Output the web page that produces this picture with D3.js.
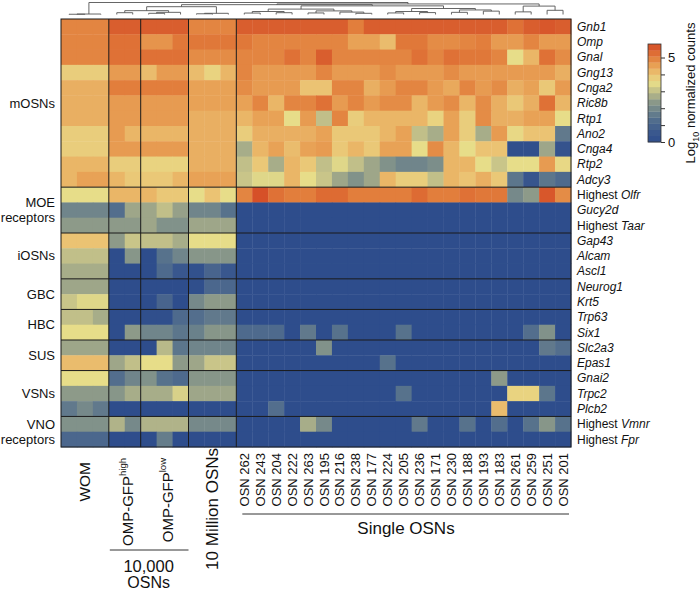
<!DOCTYPE html>
<html>
<head>
<meta charset="utf-8">
<script src="https://cdn.jsdelivr.net/npm/d3@7"></script>
<style>
  body { margin: 0; background: #fff; }
  text { font-family: "Liberation Sans", Arial, sans-serif; fill: #111; }
</style>
</head>
<body>
<svg id="chart" width="700" height="590"></svg>
<script>
// ---- data ----
const genes = ['Gnb1', 'Omp', 'Gnal', 'Gng13', 'Cnga2', 'Ric8b', 'Rtp1', 'Ano2', 'Cnga4', 'Rtp2', 'Adcy3',
    'Highest Olfr', 'Gucy2d', 'Highest Taar', 'Gap43', 'Alcam', 'Ascl1', 'Neurog1', 'Krt5', 'Trp63', 'Six1',
    'Slc2a3', 'Epas1', 'Gnai2', 'Trpc2', 'Plcb2', 'Highest Vmnr', 'Highest Fpr'];

const rowGroupLabels = [['mOSNs'], ['MOE', 'receptors'], ['iOSNs'], ['GBC'], ['HBC'], ['SUS'], ['VSNs'], ['VNO', 'receptors']];
const rowGroupSizes = [11, 3, 3, 2, 2, 2, 3, 2];

const colGroupSizes = [3, 2, 3, 3, 21];
const singleIds = ['262', '243', '204', '222', '263', '195', '216', '238', '177', '224', '205',
    '236', '171', '230', '188', '193', '183', '261', '259', '251', '201'];

// log10 normalized counts, bulk samples (WOM x3, OMP-GFP high x2, OMP-GFP low x3, 10 Million x3)
const bulkValues = [
    [4.9, 4.9, 4.9, 5.5, 5.5, 5.5, 5.5, 5.5, 4.9, 4.9, 4.9],
    [4.9, 4.9, 4.9, 5.2, 5.2, 4.7, 4.7, 5.1, 5.1, 5.1, 5.1],
    [4.9, 4.9, 4.9, 5.2, 5.2, 5.2, 5.2, 5.2, 4.8, 4.8, 4.8],
    [3.8, 3.8, 3.8, 4.6, 4.6, 4.1, 4.6, 4.6, 4.1, 3.7, 4.2],
    [4.3, 4.3, 4.3, 5.0, 5.0, 5.0, 5.0, 5.0, 4.5, 4.5, 4.5],
    [4.3, 4.3, 4.3, 4.6, 4.6, 4.6, 4.6, 4.6, 4.5, 4.5, 4.5],
    [4.3, 4.3, 4.3, 4.6, 4.6, 4.6, 4.6, 4.6, 4.3, 4.3, 4.3],
    [3.8, 3.8, 3.8, 4.6, 4.2, 4.2, 4.2, 4.2, 4.3, 4.3, 4.3],
    [3.8, 3.8, 3.8, 4.6, 4.6, 4.6, 4.6, 4.6, 4.3, 4.3, 4.3],
    [4.2, 4.2, 4.2, 3.8, 3.8, 3.7, 3.7, 3.7, 4.3, 4.3, 4.3],
    [4.2, 4.5, 4.5, 4.2, 3.9, 3.9, 3.9, 4.2, 4.5, 4.5, 4.5],
    [3.5, 3.5, 3.5, 4.2, 4.2, 4.2, 3.9, 3.9, 3.5, 4.0, 3.5],
    [1.9, 1.9, 1.9, 1.3, 2.6, 2.6, 3.0, 2.5, 1.9, 1.9, 1.4],
    [2.4, 2.4, 2.4, 2.4, 2.4, 2.6, 2.2, 2.2, 2.6, 2.6, 2.6],
    [4.0, 4.0, 4.0, 2.4, 3.1, 3.0, 3.0, 2.7, 3.5, 3.5, 3.5],
    [3.0, 3.0, 3.0, 0.0, 2.3, 0.0, 1.4, 1.9, 2.3, 2.3, 2.3],
    [2.7, 2.7, 2.7, 0.0, 0.0, 0.0, 1.2, 0.5, 0.2, 1.0, 0.5],
    [2.6, 2.6, 2.6, 0.0, 0.0, 0.0, 0.0, 0.0, 0.1, 1.1, 1.1],
    [3.1, 3.4, 3.4, 0.0, 0.0, 0.0, 1.0, 0.0, 2.0, 2.4, 2.4],
    [3.0, 3.0, 2.7, 0.0, 0.0, 0.1, 0.1, 1.2, 1.3, 1.6, 1.6],
    [3.5, 3.5, 3.5, 0.0, 2.4, 1.9, 1.9, 1.5, 1.8, 2.3, 2.3],
    [2.6, 2.6, 2.6, 0.0, 0.0, 0.0, 2.9, 1.5, 1.9, 1.9, 1.9],
    [4.1, 4.1, 4.1, 2.6, 3.0, 3.5, 3.5, 2.4, 2.6, 3.1, 3.1],
    [3.5, 3.5, 3.5, 1.3, 1.9, 2.2, 1.4, 1.2, 2.3, 2.3, 2.3],
    [2.4, 2.4, 2.4, 2.3, 2.7, 2.7, 2.7, 3.3, 2.6, 2.6, 2.6],
    [1.6, 2.0, 1.6, 0.0, 0.0, 0.0, 0.0, 0.0, 0.0, 0.0, 0.0],
    [2.2, 2.2, 2.2, 2.8, 2.0, 2.8, 2.8, 2.8, 2.0, 2.0, 2.0],
    [1.1, 1.1, 1.1, 0.0, 0.0, 0.0, 1.7, 0.0, 0.0, 0.0, 0.0]
];

// log10 normalized counts, single OSNs (same order as singleIds)
const singleValues = [
    [5.5, 5.5, 5.5, 5.5, 5.5, 5.5, 5.5, 5.0, 5.5, 5.5, 5.5, 5.5, 5.5, 5.5, 5.5, 5.5, 5.5, 5.2, 5.5, 5.6, 5.5],
    [5.1, 4.9, 4.9, 4.9, 4.9, 4.9, 4.9, 4.5, 4.5, 4.1, 5.1, 5.1, 4.8, 4.8, 4.9, 5.0, 4.6, 4.6, 4.9, 4.6, 4.6],
    [4.9, 4.9, 4.9, 5.2, 4.9, 5.5, 4.9, 4.9, 4.9, 4.9, 4.9, 5.2, 4.9, 5.2, 5.1, 5.1, 4.9, 3.5, 4.2, 5.2, 4.8],
    [4.9, 4.6, 4.6, 4.6, 4.6, 4.9, 4.6, 4.6, 4.6, 4.8, 4.6, 4.6, 4.6, 4.8, 4.6, 4.6, 4.6, 4.6, 4.6, 4.6, 4.3],
    [4.8, 4.6, 4.6, 4.6, 4.0, 4.0, 4.9, 4.9, 4.3, 4.6, 4.9, 4.9, 4.6, 4.4, 4.9, 4.6, 4.8, 4.3, 4.5, 3.9, 4.6],
    [4.5, 4.9, 4.2, 4.9, 4.9, 5.2, 4.6, 4.9, 4.6, 4.8, 4.8, 4.2, 4.6, 4.8, 4.2, 4.8, 4.3, 3.9, 4.3, 5.2, 4.2],
    [4.2, 4.5, 4.5, 3.5, 4.6, 3.0, 4.9, 3.8, 4.2, 4.2, 4.2, 4.2, 3.7, 4.5, 3.8, 4.8, 4.3, 4.3, 4.5, 4.5, 3.5],
    [3.8, 4.3, 4.3, 4.3, 4.3, 4.5, 3.9, 3.9, 3.9, 4.2, 4.5, 3.0, 2.7, 4.5, 3.8, 2.7, 4.6, 3.6, 4.0, 4.0, 1.6],
    [2.7, 4.2, 4.5, 4.1, 4.5, 4.6, 3.9, 4.2, 3.9, 4.5, 4.5, 3.5, 4.8, 4.2, 3.5, 4.0, 4.0, 0.1, 0.1, 2.6, 0.3],
    [3.0, 3.9, 2.7, 4.2, 3.9, 3.0, 3.4, 3.0, 2.6, 2.2, 1.9, 1.9, 2.1, 4.2, 4.2, 3.5, 3.1, 3.5, 3.5, 4.6, 3.6],
    [3.1, 3.4, 3.4, 4.2, 3.5, 3.1, 2.6, 2.2, 2.6, 4.2, 3.8, 3.8, 3.0, 4.2, 4.0, 4.3, 3.9, 1.5, 0.4, 1.5, 1.2],
    [4.9, 5.7, 5.2, 5.0, 5.0, 5.3, 5.3, 5.0, 5.0, 5.0, 5.0, 5.3, 5.0, 5.0, 5.2, 5.1, 5.1, 2.0, 2.4, 5.6, 4.8],
    [0, 0, 0, 0, 0, 0, 0, 0, 0, 0, 0, 0, 0, 0, 0, 0, 0, 0, 0, 0, 0],
    [0, 0, 0, 0, 0, 0, 0, 0, 0, 0, 0, 0, 0, 0, 0, 0, 0, 0, 0, 0, 0],
    [0, 0, 0, 0, 0, 0, 0, 0, 0, 0, 0, 0, 0, 0, 0, 0, 0, 0, 0, 0, 0],
    [0, 0, 0, 0, 0, 0, 0, 0, 0, 0, 0, 0, 0, 0, 0, 0, 0, 0, 0, 0, 0],
    [0, 0, 0, 0, 0, 0, 0, 0, 0, 0, 0, 0, 0, 0, 0, 0, 0, 0, 0, 0, 0],
    [0, 0, 0, 0, 0, 0, 0, 0, 0, 0, 0, 0, 0, 0, 0, 0, 0, 0, 0, 0, 0],
    [0, 0, 0, 0, 0, 0, 0, 0, 0, 0, 0, 0, 0, 0, 0, 0, 0, 0, 0, 0, 0],
    [0, 0, 0, 0, 0, 0, 0, 0, 0, 0, 0, 0, 0, 0, 0, 0, 0, 0, 0, 0, 0],
    [1.2, 1.2, 1.2, 0, 1.6, 0, 1.4, 0, 0, 0, 1.4, 0, 0, 0, 0, 0, 0, 0, 1.3, 2.2, 0],
    [0, 0, 0, 0, 0, 2.2, 0, 0, 0, 0, 0, 0, 0, 0, 0, 0, 0, 0, 0, 1.6, 1.3],
    [0, 0, 0, 0, 0, 0, 0, 0, 0, 1.4, 0, 0, 0, 0, 0, 0, 0, 0, 0, 0, 0],
    [0, 0, 0, 0, 0, 0, 0, 0, 0, 0, 0, 0, 0, 0, 0, 0, 2.4, 0, 0, 0, 0],
    [0, 0, 0, 0, 0, 0, 0, 0, 0, 0, 1.4, 0, 0, 0, 0, 0, 0, 3.7, 3.7, 1.5, 0],
    [0, 0, 1.3, 0, 0, 0, 0, 0, 0, 0, 0, 0, 0, 0, 0, 0, 4.1, 0, 0, 0, 0],
    [0, 0, 0, 0, 2.7, 2.0, 0, 0, 0, 0, 0, 1.6, 0, 0, 1.4, 0, 1.3, 0, 1.4, 2.3, 1.4],
    [0, 0, 0, 0, 0, 0, 0, 0, 0, 0, 0, 0, 0, 0, 0, 0, 0, 0, 0, 0, 0]
];

// column clustering: [height, left, right], leaves are column indices
const singleTree = [7.2,
    [4.5, [2.5, [1.2, 11, 12], [1.5, 13, 14]], [3.0, [1.3, 15, 16], [2.0, 17, [1.0, 18, 19]]]],
    [5.0, [2.5, [1.3, 20, 21], [1.6, 22, 23]], [3.8, [1.8, 24, 25], [2.8, 26, 27]]]];
const dendrogram = [10,
    [0.4, [0.2, 0, 1], 2],
    [8.8,
        [8.2,
            [6.5, [3.2, [1.5, 3, 4], [1.8, [1.0, 5, 6], 7]], [1.0, [0.6, 8, 9], 10]],
            singleTree],
        [7.0, [2.2, 28, 29], [3.5, 30, 31]]]];

// colour scale: blue (low) -> yellow -> red (high)
const colorStops = [0, 0.6, 1.2, 1.8, 2.4, 3.0, 3.5, 4.0, 4.5, 5.0, 5.8];
const colorRange = ['#2e4d8c', '#3b598e', '#4e6a8d', '#6a818b', '#8d9a89', '#c1bf89',
    '#e7dd89', '#ebc373', '#e8a256', '#e27e3c', '#d44a25'];

// ---- layout ----
const svg = d3.select('#chart');
const nCols = 32;
const matrix = genes.map((g, i) => bulkValues[i].concat(singleValues[i]));

const x = d3.scaleBand().domain(d3.range(nCols)).range([61, 571]);
const y = d3.scaleBand().domain(d3.range(genes.length)).range([19, 447]);
const color = d3.scaleLinear().domain(colorStops).range(colorRange).clamp(true);
const bw = x.bandwidth(), bh = y.bandwidth();

// cells
const cells = [];
matrix.forEach((row, r) => row.forEach((v, c) => cells.push({ r, c, v })));
svg.append('g')
    .selectAll('rect')
    .data(cells)
    .enter()
    .append('rect')
    .attr('x', d => x(d.c))
    .attr('y', d => y(d.r))
    .attr('width', bw + 0.4)
    .attr('height', bh + 0.4)
    .attr('fill', d => color(d.v));

// group separators
const colBreaks = Array.from(d3.cumsum(colGroupSizes)).slice(0, -1);
const rowBreaks = Array.from(d3.cumsum(rowGroupSizes)).slice(0, -1);
const sep = svg.append('g').attr('stroke', '#1a1a1a').attr('stroke-width', 1);
colBreaks.forEach(b => {
    sep.append('line').attr('x1', x(b)).attr('x2', x(b)).attr('y1', 19).attr('y2', 447);
});
rowBreaks.forEach(b => {
    sep.append('line').attr('x1', 61).attr('x2', 571).attr('y1', y(b)).attr('y2', y(b));
});
sep.append('rect').attr('x', 61).attr('y', 19).attr('width', 510).attr('height', 428).attr('fill', 'none');

// dendrogram
const yDen = d3.scaleLinear().domain([0, 10]).range([14.5, 2.5]);
const segs = [];
function layoutTree(node) {
    if (typeof node === 'number') return { x: x(node) + bw / 2, y: yDen(0) };
    const [h, a, b] = node;
    const l = layoutTree(a), r = layoutTree(b);
    const ny = yDen(h);
    segs.push([l.x, l.y, l.x, ny], [r.x, r.y, r.x, ny], [l.x, ny, r.x, ny]);
    return { x: (l.x + r.x) / 2, y: ny };
}
layoutTree(dendrogram);
svg.append('g')
    .selectAll('line')
    .data(segs)
    .enter()
    .append('line')
    .attr('x1', d => d[0]).attr('y1', d => d[1])
    .attr('x2', d => d[2]).attr('y2', d => d[3])
    .attr('stroke', '#555')
    .attr('stroke-width', 0.9);

// gene labels (right)
const geneLabels = svg.append('g').attr('font-size', '12px');
genes.forEach((g, i) => {
    const t = geneLabels.append('text')
        .attr('x', 577)
        .attr('y', y(i) + bh / 2)
        .attr('dy', '0.35em');
    if (g.startsWith('Highest ')) {
        t.append('tspan').text('Highest ');
        t.append('tspan').attr('font-style', 'italic').text(g.slice(8));
    } else {
        t.attr('font-style', 'italic').text(g);
    }
});

// row group labels (left)
let start = 0;
rowGroupSizes.forEach((n, gi) => {
    const cy = y(start) + n * bh / 2;
    const lines = rowGroupLabels[gi];
    lines.forEach((line, li) => {
        svg.append('text')
            .attr('x', 55)
            .attr('y', cy + (li - (lines.length - 1) / 2) * 15)
            .attr('dy', '0.35em')
            .attr('text-anchor', 'end')
            .attr('font-size', '13px')
            .text(line);
    });
    start += n;
});

// bulk sample labels (bottom, rotated)
const colStarts = [0].concat(colBreaks);
function groupCenter(g) {
    return (x(colStarts[g]) + x(colStarts[g] + colGroupSizes[g] - 1) + bw) / 2;
}
function rotLabel(cx, top, size) {
    return svg.append('text')
        .attr('transform', `translate(${cx},${top}) rotate(-90)`)
        .attr('dy', '0.35em')
        .attr('text-anchor', 'end')
        .attr('font-size', size);
}
rotLabel(groupCenter(0), 462, '15.5px').text('WOM');
[['high', 1], ['low', 2]].forEach(([sup, g]) => {
    const t = rotLabel(groupCenter(g) + 3, 458, '15px');
    t.append('tspan').text('OMP-GFP');
    t.append('tspan').attr('font-size', '9.5px').attr('dy', '-7').text(sup);
});
rotLabel(groupCenter(3), 448, '17px').text('10 Million OSNs');

// 10,000 OSNs bracket
svg.append('line')
    .attr('x1', x(3) + 1).attr('x2', x(7) + bw)
    .attr('y1', 550).attr('y2', 550)
    .attr('stroke', '#333').attr('stroke-width', 1);
svg.append('text').attr('x', (x(3) + x(7) + bw) / 2).attr('y', 572)
    .attr('text-anchor', 'middle').attr('font-size', '16.5px').text('10,000');
svg.append('text').attr('x', (x(3) + x(7) + bw) / 2).attr('y', 588)
    .attr('text-anchor', 'middle').attr('font-size', '16px').text('OSNs');

// single OSN labels
singleIds.forEach((id, k) => {
    rotLabel(x(11 + k) + bw / 2, 453, '13px').text('OSN ' + id);
});
svg.append('line')
    .attr('x1', x(11) + 6).attr('x2', x(31) + bw - 2)
    .attr('y1', 514).attr('y2', 514)
    .attr('stroke', '#333').attr('stroke-width', 1);
svg.append('text').attr('x', 406).attr('y', 534)
    .attr('text-anchor', 'middle').attr('font-size', '17px').text('Single OSNs');

// colour legend
const legendMax = 5.8, nBands = 16;
const ly = d3.scaleLinear().domain([0, legendMax]).range([142, 44]);
const step = legendMax / nBands;
const legend = svg.append('g');
legend.selectAll('rect')
    .data(d3.range(nBands).map(i => i * step))
    .enter()
    .append('rect')
    .attr('x', 648)
    .attr('y', d => ly(d + step))
    .attr('width', 13)
    .attr('height', d => ly(d) - ly(d + step) + 0.3)
    .attr('fill', d => color(d + step / 2));
legend.append('rect').attr('x', 648).attr('y', 44).attr('width', 13).attr('height', 98)
    .attr('fill', 'none').attr('stroke', '#333').attr('stroke-width', 0.8);
const legendAxis = legend.append('g')
    .attr('transform', 'translate(661,0)')
    .call(d3.axisRight(ly).tickValues([0, 1, 2, 3, 4, 5]).tickSize(4)
        .tickFormat(d => (d === 0 || d === 5) ? d : ''));
legendAxis.select('.domain').remove();
legendAxis.selectAll('text').attr('font-size', '13px').attr('font-family', '"Liberation Sans", Arial, sans-serif').attr('fill', '#111');
legendAxis.selectAll('line').attr('stroke', '#333');

const lt = svg.append('text')
    .attr('transform', 'translate(690,93) rotate(-90)')
    .attr('dy', '0.35em')
    .attr('text-anchor', 'middle')
    .attr('font-size', '13px');
lt.append('tspan').text('Log');
lt.append('tspan').attr('font-size', '9px').attr('dy', '4').text('10');
lt.append('tspan').attr('dy', '-4').text(' normalized counts');
</script>
</body>
</html>
